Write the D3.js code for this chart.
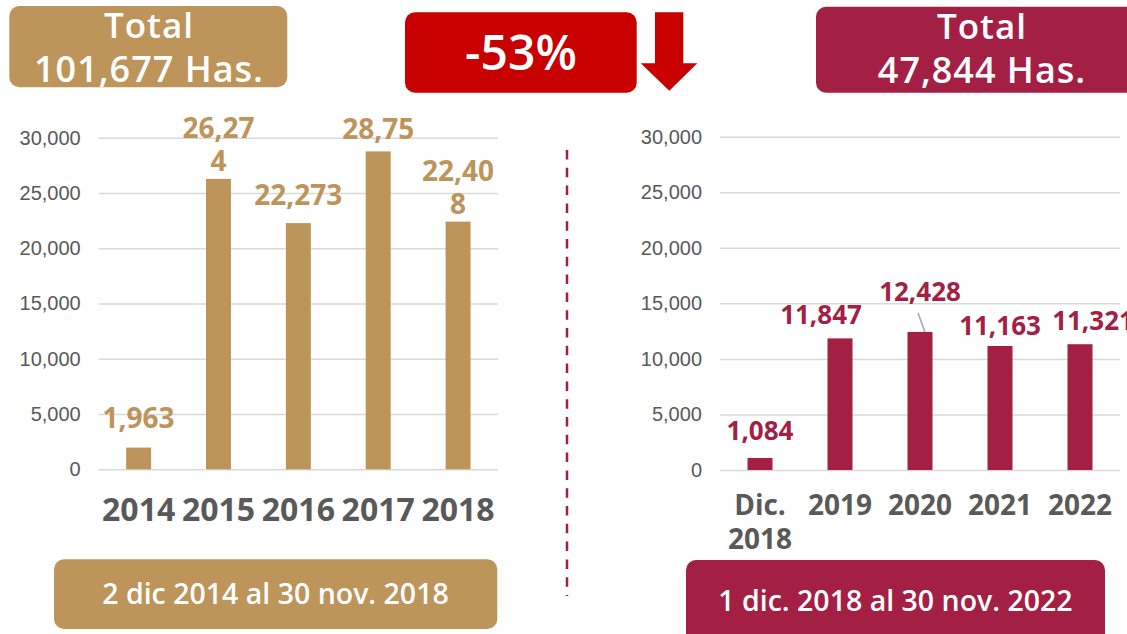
<!DOCTYPE html>
<html>
<head>
<meta charset="utf-8">
<script src="https://cdn.jsdelivr.net/npm/d3@7"></script>
<style>
  html, body { margin: 0; padding: 0; background: #fff; }
  svg { display: block; font-family: "Open Sans", sans-serif; }
</style>
</head>
<body>
<div id="chart"></div>
<script>
// Data
const yearsBefore = ["2014", "2015", "2016", "2017", "2018"];
const hectaresBefore = [1963, 26274, 22273, 28759, 22408];
const labelsBefore = [["1,963"], ["26,27", "4"], ["22,273"], ["28,75"], ["22,40", "8"]];

const yearsAfter = ["Dic.\n2018", "2019", "2020", "2021", "2022"];
const hectaresAfter = [1084, 11847, 12428, 11163, 11321];
const labelsAfter = [["1,084"], ["11,847"], ["12,428"], ["11,163"], ["11,321"]];

const yTicks = [0, 5000, 10000, 15000, 20000, 25000, 30000];

const totalBefore = "101,677 Has.";
const totalAfter = "47,844 Has.";
const changeText = "-53%";
const rangeBefore = "2 dic 2014 al 30 nov. 2018";
const rangeAfter = "1 dic. 2018 al 30 nov. 2022";

const GOLD = "#BD945A";
const WINE = "#A31F44";
const RED = "#C80000";
const GRAY = "#595959";

const width = 1127, height = 634;

const svg = d3.select("#chart")
  .append("svg")
  .attr("width", width)
  .attr("height", height)
  .attr("viewBox", [0, 0, width, height]);

svg.append("rect").attr("width", width).attr("height", height).attr("fill", "#fff");

// Draws one bar panel (axis, grid, bars, value labels, category labels)
function drawPanel(opts) {
  const x = d3.scaleBand()
    .domain(opts.cats)
    .range([opts.left, opts.right])
    .paddingInner(0.6875)
    .paddingOuter(0.34375);

  const y = d3.scaleLinear()
    .domain([0, 30000])
    .range([opts.bottom, opts.top]);

  const g = svg.append("g");

  // Y axis with grid lines
  g.append("g")
    .attr("transform", `translate(${opts.left},0)`)
    .call(d3.axisLeft(y)
      .tickValues(yTicks)
      .tickFormat(d3.format(","))
      .tickSize(-(opts.right - opts.left))
      .tickPadding(18))
    .call((g) => g.select(".domain").remove())
    .call((g) => g.selectAll(".tick line")
      .attr("stroke", "#D9D9D9")
      .attr("stroke-width", 1.5))
    .selectAll("text")
    .attr("fill", GRAY)
    .style("font-size", "20px")
    .style("font-weight", 400);

  // Bars
  g.selectAll("rect.bar")
    .data(opts.values)
    .join("rect")
    .attr("class", "bar")
    .attr("x", (d, i) => x(opts.cats[i]))
    .attr("y", (d) => y(d))
    .attr("width", x.bandwidth())
    .attr("height", (d) => y(0) - y(d))
    .attr("fill", opts.color);

  // Value labels
  opts.values.forEach((v, i) => {
    const lines = opts.labels[i];
    const nudge = opts.nudges[i] || { dx: 0, dy: 0 };
    const cx = x(opts.cats[i]) + x.bandwidth() / 2 + nudge.dx;
    const lastBase = y(v) - (lines.length > 1 ? 8 : 14) + nudge.dy;
    const t = g.append("text")
      .attr("text-anchor", "middle")
      .attr("fill", opts.color)
      .style("font-size", opts.valueSize + "px")
      .style("font-weight", 700);
    lines.forEach((line, k) => {
      t.append("tspan")
        .attr("x", cx)
        .attr("y", lastBase - (lines.length - 1 - k) * 33)
        .text(line);
    });
    if (nudge.leader) {
      g.append("line")
        .attr("x1", cx - 2)
        .attr("y1", lastBase + 12)
        .attr("x2", cx + 5)
        .attr("y2", y(v))
        .attr("stroke", "#A6A6A6")
        .attr("stroke-width", 1.5);
    }
  });

  // Category labels
  opts.cats.forEach((c) => {
    const t = g.append("text")
      .attr("text-anchor", "middle")
      .attr("fill", GRAY)
      .style("font-size", opts.catSize + "px")
      .style("font-weight", 700);
    c.split("\n").forEach((line, k) => {
      t.append("tspan")
        .attr("x", x(c) + x.bandwidth() / 2)
        .attr("y", opts.bottom + opts.catOffset + k * 34)
        .text(line);
    });
  });
}

drawPanel({
  cats: yearsBefore,
  values: hectaresBefore,
  labels: labelsBefore,
  left: 98.7, right: 498, top: 137.7, bottom: 469.3,
  color: GOLD, valueSize: 28, catSize: 32, catOffset: 51.5,
  nudges: [{ dx: 0, dy: -6 }, null, { dx: 0, dy: -4 }, { dx: 0, dy: 2 }, null]
});

drawPanel({
  cats: yearsAfter,
  values: hectaresAfter,
  labels: labelsAfter,
  left: 720, right: 1120, top: 136.7, bottom: 470,
  color: WINE, valueSize: 26, catSize: 28, catOffset: 45,
  nudges: [{ dx: 0, dy: -4 }, { dx: -19, dy: 0 }, { dx: 0, dy: -17, leader: true }, { dx: 0, dy: 3 }, { dx: 13, dy: 0 }]
});

// Dashed divider between the two periods
svg.append("line")
  .attr("x1", 567).attr("x2", 567)
  .attr("y1", 150).attr("y2", 596)
  .attr("stroke", WINE)
  .attr("stroke-width", 2.5)
  .attr("stroke-dasharray", "9.5 8.3");

// Header boxes
function box(x, y, w, h, fill) {
  svg.append("rect")
    .attr("x", x).attr("y", y)
    .attr("width", w).attr("height", h)
    .attr("rx", 10)
    .attr("fill", fill);
}

function label(x, y, txt, size, weight, spacing) {
  svg.append("text")
    .attr("x", x).attr("y", y)
    .attr("text-anchor", "middle")
    .attr("fill", "#fff")
    .style("font-size", size + "px")
    .style("font-weight", weight)
    .style("letter-spacing", (spacing || 0) + "px")
    .text(txt);
}

box(9.3, 6, 278, 81.3, GOLD);
label(149, 37.5, "Total", 35, 600, 1);
label(149, 82, totalBefore, 36, 600, 1);

box(405, 12.3, 231.7, 80.4, RED);
label(521, 69.5, changeText, 48, 600, 0);

// Down arrow
svg.append("path")
  .attr("d", "M655,12.3 L683.3,12.3 L683.3,63.3 L697.3,63.3 L669.3,90.7 L640.7,63.3 L655,63.3 Z")
  .attr("fill", RED);

box(816, 6.7, 330, 86, WINE);
label(982, 38.5, "Total", 35, 600, 1);
label(982, 83, totalAfter, 36, 600, 1);

// Footer boxes
box(54, 559.3, 443.3, 69.7, GOLD);
label(275.5, 604, rangeBefore, 28.5, 600, 0);

box(686, 560, 419, 90, WINE);
label(895.5, 611, rangeAfter, 28.5, 600, 0);
</script>
</body>
</html>
